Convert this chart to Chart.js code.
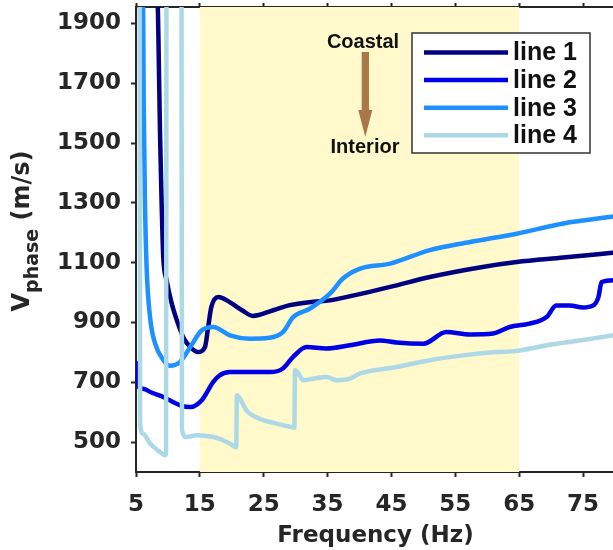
<!DOCTYPE html>
<html>
<head>
<meta charset="utf-8">
<script src="https://cdn.jsdelivr.net/npm/chart.js@4/dist/chart.umd.min.js"></script>
<style>
  html, body { margin: 0; padding: 0; background: #fff; overflow: hidden; }
  canvas { display: block; }
</style>
</head>
<body>
<canvas id="chart" width="620" height="550"></canvas>
<script>
// Phase velocity dispersion curves, four lines
const xTicks = [5, 15, 25, 35, 45, 55, 65, 75];
const yTicks = [500, 700, 900, 1100, 1300, 1500, 1700, 1900];
const band = [15, 65];

const lineLabels = ['line 1', 'line 2', 'line 3', 'line 4'];
const lineColors = ['#000080', '#0000E6', '#1E90FF', '#ADD8E6'];

const line1Freq = [8.1, 8.5, 8.76, 9.0, 9.27, 9.8, 10.6, 11.4, 12.4, 13.5, 14.7, 15.8, 16.3, 16.8, 17.9, 19.6, 21.6, 23.3, 26.5, 29.1, 32.7, 35.4, 40, 44.8, 51, 58.8, 64.6, 71.9, 80];
const line1Vel = [2300, 1866, 1533, 1309, 1119, 1041, 963, 907, 851, 818, 801, 818, 885, 952, 985, 969, 941, 922, 941, 958, 969, 974, 995, 1019, 1052, 1084, 1102, 1117, 1134];

const line2Freq = [5, 5.15, 6.1, 7.5, 9.27, 11.9, 13.5, 15.3, 17.1, 18.1, 19.7, 21.3, 26, 28, 29.6, 31.7, 34.8, 38.5, 43.2, 45.8, 50, 53.6, 57.3, 60.9, 63.5, 66.6, 69.3, 70.8, 72.9, 75, 76.6, 77.4, 77.9, 80];
const line2Vel = [770, 690, 678, 665, 651, 623, 617, 640, 701, 723, 734, 734, 734, 746, 785, 818, 813, 824, 840, 833, 829, 868, 860, 863, 885, 896, 918, 957, 957, 950, 957, 985, 1035, 1041];

const line3Freq = [6.0, 6.2, 6.4, 6.66, 7.2, 8.0, 9.27, 10.3, 11.9, 13.5, 15.3, 17.1, 19.7, 22.8, 25.9, 28, 29.6, 32.2, 35.4, 37.4, 40.1, 44.8, 51, 57.3, 64.6, 71.9, 80];
const line3Vel = [2400, 1650, 1309, 1086, 918, 829, 775, 755, 768, 818, 874, 885, 857, 846, 849, 868, 918, 946, 997, 1047, 1080, 1097, 1142, 1169, 1197, 1231, 1255];

const line4Freq = [5.55, 5.65, 6.1, 7.2, 8.75, 9.5, 9.7, 9.8, 12.1, 12.2, 12.9, 14.5, 17.1, 18.1, 19.7, 20.7, 20.8, 21.3, 22.3, 24.4, 27, 29.4, 29.8, 29.9, 30.3, 31.2, 32.7, 34.8, 36.4, 38.5, 40, 45.8, 51, 56.2, 61.4, 64.6, 69.3, 74.5, 80];
const line4Vel = [2500, 560, 528, 495, 467, 456, 462, 2500, 2500, 540, 517, 523, 517, 511, 495, 483, 657, 645, 606, 578, 562, 550, 548, 740, 734, 707, 712, 718, 707, 712, 729, 751, 774, 790, 801, 805, 824, 840, 858];

const ink = '#262626';
const freqs = [line1Freq, line2Freq, line3Freq, line4Freq];
const vels = [line1Vel, line2Vel, line3Vel, line4Vel];

// yellow frequency band behind the curves
const bandPlugin = {
  id: 'band',
  beforeDatasetsDraw(chart) {
    const { ctx, chartArea, scales } = chart;
    const x0 = scales.x.getPixelForValue(band[0]);
    const x1 = scales.x.getPixelForValue(band[1]);
    ctx.save();
    ctx.fillStyle = '#FFF9CC';
    ctx.fillRect(x0, chartArea.top, x1 - x0, chartArea.bottom - chartArea.top);
    ctx.restore();
  }
};

// legend box, coastal/interior arrow and the y title with subscript
const overlayPlugin = {
  id: 'overlay',
  afterDraw(chart) {
    const ctx = chart.ctx;
    ctx.save();

    // legend
    ctx.fillStyle = '#fff';
    ctx.fillRect(412, 33, 178, 120);
    ctx.strokeStyle = '#333';
    ctx.lineWidth = 1.5;
    ctx.strokeRect(412, 33, 178, 120);
    ctx.font = 'bold 25px "Liberation Sans", Arial, sans-serif';
    ctx.textBaseline = 'middle';
    ctx.textAlign = 'left';
    chart.data.datasets.forEach((ds, i) => {
      const y = 52.5 + i * 27.6;
      ctx.strokeStyle = ds.borderColor;
      ctx.lineWidth = 4.5;
      ctx.beginPath();
      ctx.moveTo(424, y);
      ctx.lineTo(508, y);
      ctx.stroke();
      ctx.fillStyle = '#111';
      ctx.fillText(ds.label, 513, y + 1);
    });

    // arrow
    ctx.fillStyle = '#A9774A';
    ctx.fillRect(361.7, 52, 7.3, 60);
    ctx.beginPath();
    ctx.moveTo(358.3, 110);
    ctx.lineTo(372.3, 110);
    ctx.lineTo(365.3, 137);
    ctx.closePath();
    ctx.fill();

    ctx.fillStyle = '#111';
    ctx.font = 'bold 20px "Liberation Sans", Arial, sans-serif';
    ctx.textAlign = 'center';
    ctx.textBaseline = 'alphabetic';
    ctx.fillText('Coastal', 363, 48);
    ctx.fillText('Interior', 365, 153);

    // y title: V_phase (m/s)
    const big = 'bold 24px "DejaVu Sans", sans-serif';
    const small = 'bold 19px "DejaVu Sans", sans-serif';
    ctx.font = big;
    const wV = ctx.measureText('V').width;
    const wRest = ctx.measureText(' (m/s)').width;
    ctx.font = small;
    const wSub = ctx.measureText('phase').width;
    const total = wV + wSub + wRest;
    ctx.translate(29, 231);
    ctx.rotate(-Math.PI / 2);
    ctx.fillStyle = ink;
    ctx.textAlign = 'left';
    let x = -total / 2;
    ctx.font = big;
    ctx.fillText('V', x, 0);
    x += wV;
    ctx.font = small;
    ctx.fillText('phase', x, 9);
    x += wSub;
    ctx.font = big;
    ctx.fillText(' (m/s)', x, 0);

    ctx.restore();
  }
};

const datasets = lineLabels.map((label, i) => ({
  label: label,
  data: freqs[i].map((f, k) => ({ x: f, y: vels[i][k] })),
  borderColor: lineColors[i],
  borderWidth: 4.5,
  pointRadius: 0,
  fill: false,
  cubicInterpolationMode: 'monotone',
  clip: 0,
  order: lineLabels.length - i
}));

const tickFont = { family: 'DejaVu Sans', size: 23, weight: 'bold' };
const gridOpts = { drawOnChartArea: false, drawTicks: true, tickLength: 5, tickColor: ink, tickWidth: 2 };
const borderOpts = { color: ink, width: 2 };

// keep the plot box fixed: no extra room for overhanging labels
function noOverhang(a) {
  a.paddingTop = 0;
  a.paddingBottom = 0;
  a.paddingLeft = 0;
  a.paddingRight = 0;
}

new Chart(document.getElementById('chart'), {
  type: 'line',
  data: { datasets: datasets },
  options: {
    responsive: false,
    animation: false,
    devicePixelRatio: 1,
    layout: { padding: { right: 5, top: 0, left: 0, bottom: 0 } },
    plugins: { legend: { display: false }, tooltip: { enabled: false } },
    scales: {
      x: {
        type: 'linear', position: 'bottom', min: 5, max: 80,
        afterBuildTicks: a => { a.ticks = xTicks.map(v => ({ value: v })); },
        afterFit: a => { a.height = 78; noOverhang(a); },
        ticks: { font: tickFont, color: ink, padding: 14, maxRotation: 0, autoSkip: false, callback: v => String(v) },
        grid: gridOpts,
        border: borderOpts,
        title: {
          display: true, text: 'Frequency (Hz)', color: ink,
          font: { family: 'DejaVu Sans', size: 23, weight: 'bold' },
          padding: { top: 0, bottom: 0 }
        }
      },
      xTop: {
        type: 'linear', position: 'top', min: 5, max: 80,
        afterBuildTicks: a => { a.ticks = xTicks.map(v => ({ value: v })); },
        afterFit: a => { a.height = 7; noOverhang(a); },
        ticks: { display: false },
        grid: Object.assign({}, gridOpts, { tickLength: 4 }),
        border: borderOpts
      },
      y: {
        type: 'linear', min: 400, max: 1955,
        afterBuildTicks: a => { a.ticks = yTicks.map(v => ({ value: v })); },
        afterFit: a => { a.width = 136; noOverhang(a); },
        ticks: { font: tickFont, color: ink, padding: 10, callback: v => String(v) },
        grid: gridOpts,
        border: borderOpts
      }
    }
  },
  plugins: [bandPlugin, overlayPlugin]
});
</script>
</body>
</html>
